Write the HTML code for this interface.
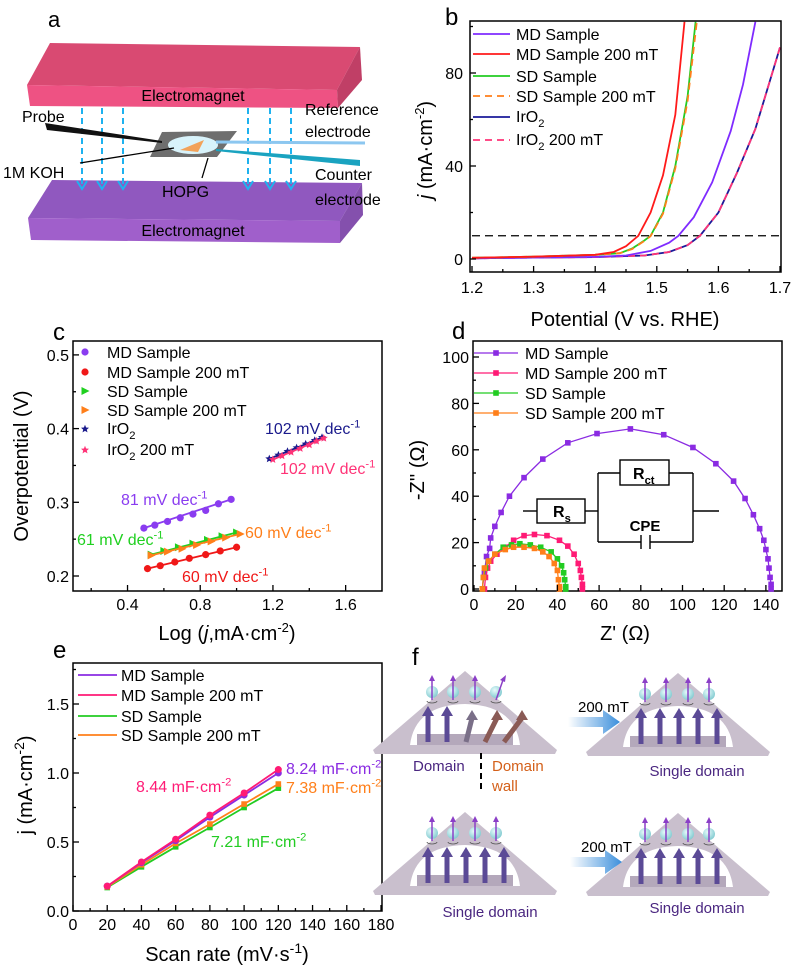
<!DOCTYPE html>
<html><head><meta charset="utf-8">
<style>
html,body{margin:0;padding:0;background:#fff;}
svg{display:block;font-family:"Liberation Sans",Arial,sans-serif;}
</style></head>
<body>
<svg id="fig" width="800" height="974" viewBox="0 0 800 974" xmlns="http://www.w3.org/2000/svg">
<defs>
<clipPath id="clipB"><rect x="470" y="21" width="311" height="251"/></clipPath>
<linearGradient id="blueArrow" x1="0" x2="1"><stop offset="0" stop-color="#ffffff"/><stop offset="1" stop-color="#3b8fdc"/></linearGradient>
<radialGradient id="sph" cx="0.4" cy="0.35" r="0.7"><stop offset="0" stop-color="#e8fbfb"/><stop offset="1" stop-color="#7ec9cf"/></radialGradient>
</defs>

<g>
<text x="48" y="27" font-size="22">a</text>
<g>
<polygon points="27,85 50,43 360,47 337,90" fill="#d94a72"/>
<polygon points="27,85 337,90 338,108 30,106" fill="#ee5283"/>
<polygon points="337,90 360,47 362,80 338,108" fill="#c03f66"/>
<text x="193" y="101" font-size="16" text-anchor="middle">Electromagnet</text>
</g>
<g>
<polygon points="28,218 52,180 362,183 340,221" fill="#9058bf"/>
<polygon points="28,218 340,221 340,243 31,240" fill="#a05fcb"/>
<polygon points="340,221 362,183 363,215 340,243" fill="#8450ad"/>
<text x="193" y="236" font-size="16" text-anchor="middle">Electromagnet</text>
</g>
<g id="fieldArrows"></g>
<g>
<polygon points="162,132 237,131 217,157 150,157" fill="#6e6e6e"/>
<ellipse cx="193" cy="145" rx="25" ry="9" fill="#d8f3fb"/>
<polygon points="180,150 204,140 198,152" fill="#f2a25a"/>
</g>
<polygon points="45,123 47,130 162,143 162,141" fill="#111"/>
<line x1="80" y1="163" x2="174" y2="148" stroke="#000" stroke-width="1.3"/>
<line x1="208" y1="158" x2="202" y2="178" stroke="#000" stroke-width="1.3"/>
<line x1="216" y1="142" x2="365" y2="143" stroke="#8cc7f0" stroke-width="3"/>
<polygon points="216,149 360,160 360,166 216,151" fill="#1aa3c0"/>
<text x="22" y="122" font-size="16">Probe</text>
<text x="3" y="178" font-size="16">1M KOH</text>
<text x="162" y="197" font-size="16">HOPG</text>
<text x="305" y="115" font-size="16">Reference</text>
<text x="305" y="137" font-size="16">electrode</text>
<text x="315" y="180" font-size="16">Counter</text>
<text x="315" y="205" font-size="16">electrode</text>
</g>

<g id="panelB"></g>
<g id="panelC"></g>
<g id="panelD"></g>
<g id="panelE"></g>
<g id="panelF"></g>
</svg>

<script>
const bSeriesNames = ["MD Sample","MD Sample 200 mT","SD Sample","SD Sample 200 mT","IrO2","IrO2 200 mT"];
const bColors = ["#7f2bff","#ff1a1a","#22cc22","#ff7f1a","#1a1a99","#ff3377"];
const bV_md = [1.2,1.3,1.4,1.45,1.49,1.52,1.535,1.56,1.59,1.62,1.64,1.66];
const bJ_md = [0.3,0.6,0.9,1.5,3.5,7,10,18,33,55,75,102];
const bV_md200 = [1.2,1.3,1.4,1.43,1.45,1.47,1.49,1.51,1.53,1.545];
const bJ_md200 = [0.5,1,1.8,3,5.5,10,20,36,62,102];
const bV_sd = [1.2,1.3,1.4,1.44,1.46,1.48,1.49,1.51,1.53,1.55,1.563];
const bJ_sd = [0.5,1,1.8,2.5,4.5,8,10,20,40,70,102];
const bV_sd200 = [1.2,1.3,1.4,1.44,1.46,1.48,1.49,1.51,1.53,1.55,1.565];
const bJ_sd200 = [0.5,1,1.8,2.5,4.3,7.8,9.8,19.5,39,68,102];
const bV_ir = [1.2,1.3,1.4,1.48,1.52,1.55,1.57,1.6,1.63,1.66,1.7];
const bJ_ir = [0.3,0.6,0.8,1.5,3,6,10,20,37,56,91];
const bV_ir200 = [1.2,1.3,1.4,1.48,1.52,1.55,1.57,1.6,1.63,1.66,1.7];
const bJ_ir200 = [0.3,0.6,0.8,1.5,3,6,10,20,37,56,91];
const bXTicks = [1.2,1.3,1.4,1.5,1.6,1.7];
const bYTicks = [0,40,80];
const bRefLine = [10];

const cSeriesNames = ["MD Sample","MD Sample 200 mT","SD Sample","SD Sample 200 mT","IrO2","IrO2 200 mT"];
const cColors = ["#8a3cf0","#f01818","#20d020","#ff7f1a","#1a1a8c","#ff3377"];
const cX_md = [0.49,0.55,0.62,0.69,0.76,0.83,0.9,0.97];
const cY_md = [0.265,0.269,0.274,0.279,0.284,0.289,0.298,0.304];
const cX_md200 = [0.51,0.58,0.66,0.74,0.83,0.91,1.0];
const cY_md200 = [0.21,0.214,0.219,0.224,0.229,0.234,0.239];
const cX_sd = [0.53,0.6,0.68,0.76,0.84,0.92,1.0];
const cY_sd = [0.229,0.234,0.239,0.244,0.249,0.254,0.259];
const cX_sd200 = [0.53,0.62,0.7,0.78,0.86,0.94,1.02];
const cY_sd200 = [0.228,0.233,0.237,0.242,0.247,0.252,0.257];
const cX_ir = [1.18,1.23,1.28,1.33,1.38,1.43,1.47];
const cY_ir = [0.359,0.364,0.369,0.374,0.379,0.384,0.388];
const cX_ir200 = [1.2,1.25,1.3,1.35,1.4,1.44,1.48];
const cY_ir200 = [0.358,0.363,0.368,0.373,0.378,0.383,0.387];
const cXTicks = [0.4,0.8,1.2,1.6];
const cYTicks = [0.2,0.3,0.4,0.5];
const cSlopes = ["81","60","61","60","102","102"];

const dSeriesNames = ["MD Sample","MD Sample 200 mT","SD Sample","SD Sample 200 mT"];
const dColors = ["#8a2be2","#ff1a75","#22cc22","#ff7f1a"];
const dX_md = [4,5,6,7.5,8,10,13,17,24,33,45,59,75,91,105,116,124.5,130,134,137,139,140,141,141.5,142,142.5,142.5];
const dY_md = [0,7,14,17.5,22,27,33,40,48,56,63,67,69,66.5,61,54,46.5,39,32,26,21,17,13,9,5,2,0];
const dX_md200 = [5,5.5,6.5,8,11,15,19,24,29,35,41,45,48,50,51,51.5,52,52];
const dY_md200 = [0,5,9,12,15,18,21,23,23.5,23,21,18.5,15,11,8,5,2,0];
const dX_sd = [4,4.5,5.5,7,10,14,18,22,27,32,37,40,42,43,43.5,44,44];
const dY_sd = [0,5,9,12,15,18,19,19.5,19,18,16,13,10,7,4,1,0];
const dX_sd200 = [4,4.5,5,7,10,15,19,24,29,33,36,38.5,40,40.5,41,41];
const dY_sd200 = [0,5,9,12,15,17,18,18,17.5,16,14,11,8,4,1,0];
const dXTicks = [0,20,40,60,80,100,120,140];
const dYTicks = [0,20,40,60,80,100];

const eSeriesNames = ["MD Sample","MD Sample 200 mT","SD Sample","SD Sample 200 mT"];
const eColors = ["#8a2be2","#ff1a75","#22cc22","#ff7f1a"];
const eScan = [20,40,60,80,100,120];
const eJ_md = [0.18,0.35,0.51,0.68,0.84,1.0];
const eJ_md200 = [0.18,0.355,0.52,0.695,0.855,1.025];
const eJ_sd = [0.17,0.32,0.465,0.605,0.75,0.89];
const eJ_sd200 = [0.175,0.335,0.49,0.63,0.775,0.92];
const eXTicks = [0,20,40,60,80,100,120,140,160,180];
const eYTicks = ["0.0","0.5","1.0","1.5"];
const eCdl = ["8.24","8.44","7.21","7.38"];

const NS = "http://www.w3.org/2000/svg";
const TICK = 16, LEG = 16, TITLE = 20;
function mk(tag, attrs, parent){
  const el = document.createElementNS(NS, tag);
  for (const k in attrs) el.setAttribute(k, attrs[k]);
  parent.appendChild(el);
  return el;
}
function txt(parent, x, y, s, size, anchor, fill){
  const t = mk("text", {x:x, y:y, "font-size":size, "text-anchor":anchor||"start", fill:fill||"#000"}, parent);
  t.textContent = s;
  return t;
}
function supText(parent, x, y, pre, sup, post, size, fill, anchor){
  const t = mk("text", {x:x, y:y, "font-size":size, fill:fill||"#000", "text-anchor":anchor||"start"}, parent);
  const a = mk("tspan", {}, t); a.textContent = pre;
  const b = mk("tspan", {dy:-size*0.4, "font-size":size*0.7}, t); b.textContent = sup;
  if (post){ const c = mk("tspan", {dy:size*0.4}, t); c.textContent = post; }
  return t;
}
function subText(parent, x, y, pre, sub, post, size, fill){
  const t = mk("text", {x:x, y:y, "font-size":size, fill:fill||"#000"}, parent);
  const a = mk("tspan", {}, t); a.textContent = pre;
  const b = mk("tspan", {dy:size*0.3, "font-size":size*0.7}, t); b.textContent = sub;
  if (post){ const c = mk("tspan", {dy:-size*0.3}, t); c.textContent = post; }
  return t;
}
function pathFrom(xs, ys, sx, sy){
  return xs.map((v,i)=>(i?"L":"M")+sx(v).toFixed(1)+","+sy(ys[i]).toFixed(1)).join(" ");
}
function frame(g, x, y, w, h){
  const r = mk("rect", {x:x, y:y, width:w, height:h, fill:"none", stroke:"#000", "stroke-width":1.5}, g);
  
  
}
function xTick(g, x, yb, len, xmin, xmax){ if (x<xmin||x>xmax) return; mk("line", {x1:x, x2:x, y1:yb, y2:yb-len, stroke:"#000", "stroke-width":1.3}, g); }
function yTick(g, xl, y, len, ymin, ymax){ if (y<ymin||y>ymax) return; mk("line", {x1:xl, x2:xl+len, y1:y, y2:y, stroke:"#000", "stroke-width":1.3}, g); }

(function(){
  const g = document.getElementById("fieldArrows");
  const xs = [82,102,123,248,270,291];
  xs.forEach(x=>{
    const l = mk("line", {x1:x, y1:108, x2:x, y2:186, stroke:"#1fb2ef", "stroke-width":2, "stroke-dasharray":"6,4"}, g);
    
    
    mk("polyline", {points:(x-5)+",181 "+x+",189 "+(x+5)+",181", fill:"none", stroke:"#1fb2ef", "stroke-width":2}, g);
  });
})();

(function(){
  const g = document.getElementById("panelB");
  const sx = v => 472 + (v-1.2)/0.5*308;
  const sy = j => 259 - j*2.325;
  txt(g, 445, 25, "b", 24);
  const plot = mk("g", {"clip-path":"url(#clipB)"}, g);
  const ref = mk("line", {x1:sx(1.2), x2:sx(1.7), y1:sy(bRefLine[0]), y2:sy(bRefLine[0]), stroke:"#000", "stroke-width":1.3, "stroke-dasharray":"8,5"}, plot);
  
  
  const sets = [[bV_ir,bJ_ir,4,null],[bV_ir200,bJ_ir200,5,"7,5"],[bV_md,bJ_md,0,null],[bV_sd,bJ_sd,2,null],[bV_sd200,bJ_sd200,3,"7,5"],[bV_md200,bJ_md200,1,null]];
  sets.forEach(s=>{
    const p = mk("path", {d:pathFrom(s[0],s[1],sx,sy), fill:"none", stroke:bColors[s[2]], "stroke-width":1.8}, plot);
    if (s[3]) p.setAttribute("stroke-dasharray", s[3]);
    
    
  });
  frame(g, 470, 21, 311, 251);
  bXTicks.forEach(v=>{
    xTick(g, sx(v), 272, 6, 470, 781);
    xTick(g, sx(v+0.05), 272, 3, 470, 779);
    const t = txt(g, sx(v), 293, v.toFixed(1), TICK, "middle");
    
    
  });
  bYTicks.forEach(v=>{
    yTick(g, 470, sy(v), 6, 21, 272);
    yTick(g, 470, sy(v+20), 3, 21, 272);
    const t = txt(g, 463, sy(v)+6, String(v), TICK, "end");
    
    
  });
  const xt = txt(g, 625, 326, "Potential (V vs. RHE)", TITLE, "middle");
  
  
  const yt = mk("text", {x:0, y:0, "font-size":TITLE, "text-anchor":"middle", transform:"translate(432,150) rotate(-90)"}, g);
  const y1 = mk("tspan", {"font-style":"italic"}, yt); y1.textContent = "j";
  const y2 = mk("tspan", {}, yt); y2.textContent = " (mA·cm";
  const y3 = mk("tspan", {dy:-8, "font-size":13}, yt); y3.textContent = "-2";
  const y4 = mk("tspan", {dy:8}, yt); y4.textContent = ")";
  
  
  const rows = [34,54,76,96,117,140];
  const dashes = [null,null,null,"7,5",null,"7,5"];
  bSeriesNames.forEach((n,i)=>{
    const l = mk("line", {x1:473, x2:510, y1:rows[i], y2:rows[i], stroke:bColors[i], "stroke-width":1.8}, g);
    if (dashes[i]) l.setAttribute("stroke-dasharray", dashes[i]);
    
    
    let t;
    if (n.startsWith("IrO2")) t = subText(g, 516, rows[i]+5, "IrO", "2", n.slice(4), LEG);
    else t = txt(g, 516, rows[i]+6, n, LEG);
    
    
  });
})();

function star(g, cx, cy, r, fill){
  let pts = [];
  for (let i=0;i<10;i++){
    const a = -Math.PI/2 + i*Math.PI/5;
    const rr = i%2 ? r*0.45 : r;
    pts.push((cx+rr*Math.cos(a)).toFixed(1)+","+(cy+rr*Math.sin(a)).toFixed(1));
  }
  return mk("polygon", {points:pts.join(" "), fill:fill}, g);
}
function marker(g, type, cx, cy, color){
  let m;
  if (type==="circle") m = mk("circle", {cx:cx, cy:cy, r:3.6, fill:color}, g);
  else if (type==="tri") m = mk("polygon", {points:(cx-3.5)+","+(cy-4)+" "+(cx+4.5)+","+cy+" "+(cx-3.5)+","+(cy+4), fill:color}, g);
  else if (type==="square") m = mk("rect", {x:cx-2.8, y:cy-2.8, width:5.6, height:5.6, fill:color}, g);
  else m = star(g, cx, cy, 4.2, color);
  return m;
}
(function(){
  const g = document.getElementById("panelC");
  const sx = v => 73 + (v-0.1)/1.7*309;
  const sy = v => 576 - (v-0.2)*737;
  txt(g, 53, 340, "c", 24);
  frame(g, 73, 341, 309, 250);
  const sets = [[cX_md,cY_md,0,"circle"],[cX_md200,cY_md200,1,"circle"],[cX_sd,cY_sd,2,"tri"],[cX_sd200,cY_sd200,3,"tri"],[cX_ir,cY_ir,4,"star"],[cX_ir200,cY_ir200,5,"star"]];
  sets.forEach(s=>{
    const xs=s[0], ys=s[1], c=cColors[s[2]];
    const n = xs.length-1;
    const fl = mk("line", {x1:sx(xs[0]), y1:sy(ys[0]), x2:sx(xs[n]), y2:sy(ys[n]), stroke:c, "stroke-width":1.8}, g);
    
    
    xs.forEach((x,i)=>{
      const m = marker(g, s[3], sx(x), sy(ys[i]), c);
      
      
    });
  });
  cXTicks.forEach(v=>{
    xTick(g, sx(v), 591, 6, 73, 382);
    xTick(g, sx(v-0.2), 591, 3, 73, 382);
    const t = txt(g, sx(v), 610, v.toFixed(1), TICK, "middle");
    
    
  });
  cYTicks.forEach(v=>{
    yTick(g, 73, sy(v), 6, 341, 591);
    yTick(g, 73, sy(v+0.05), 3, 343, 591);
    const t = txt(g, 69, sy(v)+6, v.toFixed(1), TICK, "end");
    
    
  });
  const xt = mk("text", {x:227, y:640, "font-size":TITLE, "text-anchor":"middle"}, g);
  const a1 = mk("tspan", {}, xt); a1.textContent = "Log (";
  const a2 = mk("tspan", {"font-style":"italic"}, xt); a2.textContent = "j";
  const a3 = mk("tspan", {}, xt); a3.textContent = ",mA·cm";
  const a4 = mk("tspan", {dy:-8,"font-size":13}, xt); a4.textContent = "-2";
  const a5 = mk("tspan", {dy:8}, xt); a5.textContent = ")";
  
  
  const yt = txt(g, 0, 0, "Overpotential (V)", TITLE, "middle");
  yt.setAttribute("transform", "translate(28,466) rotate(-90)");
  
  
  const rows = [352,372,391,410,429,450];
  const types = ["circle","circle","tri","tri","star","star"];
  cSeriesNames.forEach((n,i)=>{
    const m = marker(g, types[i], 85, rows[i], cColors[i]);
    
    
    let t;
    if (n.startsWith("IrO2")) t = subText(g, 107, rows[i]+5, "IrO", "2", n.slice(4), LEG);
    else t = txt(g, 107, rows[i]+6, n, LEG);
    
    
  });
  const ann = [[121,505,0],[182,582,1],[77,545,2],[245,538,3],[265,434,4],[280,474,5]];
  ann.forEach(a=>{
    const t = supText(g, a[0], a[1], cSlopes[a[2]]+" mV dec", "-1", "", 16, cColors[a[2]]);
    
    
  });
})();

(function(){
  const g = document.getElementById("panelD");
  const sx = v => 474 + v*2.085;
  const sy = v => 589 - v*2.32;
  txt(g, 452, 339, "d", 24);
  frame(g, 473, 341, 309, 250);
  const sets = [[dX_md,dY_md,0],[dX_md200,dY_md200,1],[dX_sd,dY_sd,2],[dX_sd200,dY_sd200,3]];
  sets.forEach(s=>{
    const c = dColors[s[2]];
    const p = mk("path", {d:pathFrom(s[0],s[1],sx,sy), fill:"none", stroke:c, "stroke-width":1.3}, g);
    
    
    s[0].forEach((x,i)=>{
      const m = marker(g, "square", sx(x), sy(s[1][i]), c);
      
      
    });
  });
  dXTicks.forEach(v=>{
    xTick(g, sx(v), 591, 6, 473, 782);
    xTick(g, sx(v+10), 591, 3, 473, 780);
    const t = txt(g, sx(v), 610, String(v), TICK, "middle");
    
    
  });
  dYTicks.forEach(v=>{
    yTick(g, 473, sy(v), 6, 341, 591);
    yTick(g, 473, sy(v+10), 3, 343, 591);
    const t = txt(g, 469, sy(v)+6, String(v), TICK, "end");
    
    
  });
  const xt = txt(g, 625, 640, "Z' (Ω)", TITLE, "middle");
  
  
  const yt = txt(g, 0, 0, "-Z'' (Ω)", TITLE, "middle");
  yt.setAttribute("transform", "translate(424,470) rotate(-90)");
  
  
  const rows = [353,373,393,413];
  dSeriesNames.forEach((n,i)=>{
    const l = mk("line", {x1:474, x2:518, y1:rows[i], y2:rows[i], stroke:dColors[i], "stroke-width":1.3}, g);
    
    
    marker(g, "square", 496, rows[i], dColors[i]);
    const t = txt(g, 525, rows[i]+6, n, LEG);
    
    
  });
  const ck = mk("g", {stroke:"#000", "stroke-width":1.4, fill:"none"}, g);
  
  
  mk("line", {x1:523, y1:511, x2:537, y2:511}, ck);
  mk("rect", {x:537, y:499, width:48, height:24, fill:"#fff"}, ck);
  mk("line", {x1:585, y1:511, x2:598, y2:511}, ck);
  mk("line", {x1:598, y1:473, x2:598, y2:542}, ck);
  mk("line", {x1:693, y1:473, x2:693, y2:542}, ck);
  mk("line", {x1:693, y1:511, x2:719, y2:511}, ck);
  mk("line", {x1:598, y1:473, x2:620, y2:473}, ck);
  mk("rect", {x:620, y:460, width:49, height:25, fill:"#fff"}, ck);
  mk("line", {x1:669, y1:473, x2:693, y2:473}, ck);
  mk("line", {x1:598, y1:542, x2:641, y2:542}, ck);
  mk("line", {x1:641, y1:535, x2:641, y2:549}, ck);
  mk("line", {x1:650, y1:535, x2:650, y2:549}, ck);
  mk("line", {x1:650, y1:542, x2:693, y2:542}, ck);
  const rs = subText(g, 553, 517, "R", "s", "", 16);
  rs.setAttribute("font-weight","bold");
  const rct = subText(g, 633, 479, "R", "ct", "", 16);
  rct.setAttribute("font-weight","bold");
  const cpe = txt(g, 645, 531, "CPE", 15, "middle");
  cpe.setAttribute("font-weight","bold");
})();

(function(){
  const g = document.getElementById("panelE");
  const sx = v => 73 + v/180*308;
  const sy = v => 911 - v*138;
  txt(g, 53, 658, "e", 24);
  frame(g, 73, 663, 309, 248);
  const series = [[eJ_sd,2],[eJ_sd200,3],[eJ_md,0],[eJ_md200,1]];
  series.forEach(s=>{
    const c = eColors[s[1]];
    const p = mk("path", {d:pathFrom(eScan,s[0],sx,sy), fill:"none", stroke:c, "stroke-width":1.8}, g);
    
    
    eScan.forEach((x,i)=>{
      const m = (s[1]>=2) ? marker(g, "square", sx(x), sy(s[0][i]), c) : mk("circle", {cx:sx(x), cy:sy(s[0][i]), r:3.5, fill:c}, g);
      
      
    });
  });
  eXTicks.forEach(v=>{
    xTick(g, sx(v), 911, 6, 73, 382);
    xTick(g, sx(v+10), 911, 3, 73, 380);
    const t = txt(g, sx(v), 930, String(v), TICK, "middle");
    
    
  });
  eYTicks.forEach(v=>{
    const y = sy(parseFloat(v));
    yTick(g, 73, y, 6, 663, 911);
    yTick(g, 73, sy(parseFloat(v)+0.25), 3, 665, 911);
    const t = txt(g, 69, y+6, v, TICK, "end");
    
    
  });
  const xt = supText(g, 227, 961, "Scan rate (mV·s", "-1", ")", TITLE, "#000", "middle");
  
  
  const yt = supText(g, 0, 0, "j (mA·cm", "-2", ")", TITLE, "#000", "middle");
  yt.setAttribute("transform", "translate(32,785) rotate(-90)");
  
  
  const rows = [675,695,716,735];
  eSeriesNames.forEach((n,i)=>{
    const l = mk("line", {x1:78, x2:117, y1:rows[i], y2:rows[i], stroke:eColors[i], "stroke-width":1.8}, g);
    
    
    const t = txt(g, 121, rows[i]+6, n, LEG);
    
    
  });
  const ann = [[286,774,0],[136,792,1],[211,847,2],[286,793,3]];
  ann.forEach(a=>{
    const t = supText(g, a[0], a[1], eCdl[a[2]]+" mF·cm", "-2", "", 16, eColors[a[2]]);
    
    
  });
})();

(function(){
  const g = document.getElementById("panelF");
  txt(g, 412, 665, "f", 24);
  function tri(cx, baseY, tilted){
    const t = mk("g", {}, g);
    
    
    mk("polygon", {points:(cx-92)+","+baseY+" "+cx+","+(baseY-79)+" "+(cx+92)+","+baseY+" "+(cx+90)+","+(baseY+4)+" "+(cx-90)+","+(baseY+4), fill:"#c9bfcd"}, t);
    mk("path", {d:"M"+(cx-55)+","+(baseY-5)+" Q"+(cx-50)+","+(baseY-45)+" "+cx+","+(baseY-46)+" Q"+(cx+50)+","+(baseY-45)+" "+(cx+55)+","+(baseY-5)+" Z", fill:"#ffffff"}, t);
    mk("rect", {x:cx-48, y:baseY-16, width:96, height:11, fill:"#b4a8bb"}, t);
    const offs = [-37,-18,1,20,39];
    offs.forEach((o,i)=>{
      const tl = tilted && i>=2;
      const col = tl ? (i===2?"#7a6f88":"#8a5a55") : "#5b4a96";
      const x0 = cx+o, y0 = baseY-8;
      const x1 = tl ? x0+ (i-1)*6 : x0, y1 = tl ? baseY-38 : baseY-42;
      mk("line", {x1:x0, y1:y0, x2:x1, y2:y1+6, stroke:col, "stroke-width":5}, t);
      mk("polygon", {points:(x1-6)+","+(y1+8)+" "+x1+","+(y1-2)+" "+(x1+6)+","+(y1+8), fill:col}, t);
    });
    [-33,-12,10,31].forEach((o,i)=>{
      const x = cx+o, y = baseY-58;
      mk("circle", {cx:x, cy:y, r:6, fill:"url(#sph)"}, t);
      const tl = tilted && i===3;
      mk("line", {x1:x, y1:y+8, x2:tl?x+7:x, y2:tl?y-12:y-13, stroke:"#8b3fc7", "stroke-width":1.5}, t);
      mk("polygon", {points: tl ? (x+4)+","+(y-12)+" "+(x+10)+","+(y-17)+" "+(x+9)+","+(y-10) : (x-3)+","+(y-11)+" "+x+","+(y-17)+" "+(x+3)+","+(y-11), fill:"#8b3fc7"}, t);
      mk("path", {d:"M"+(x-5)+","+(y+9)+" a5,2 0 1,0 10,0", fill:"none", stroke:"#555", "stroke-width":0.8}, t);
    });
  }
  tri(465, 750, true);
  tri(678, 752, false);
  tri(465, 891, false);
  tri(678, 892, false);
  function bigArrow(x, y){
    const a = mk("polygon", {points:x+","+(y-5)+" "+(x+35)+","+(y-5)+" "+(x+35)+","+(y-12)+" "+(x+52)+","+y+" "+(x+35)+","+(y+12)+" "+(x+35)+","+(y+5)+" "+x+","+(y+5), fill:"url(#blueArrow)"}, g);
    
    
  }
  bigArrow(568, 722);
  bigArrow(570, 862);
  txt(g, 578, 712, "200 mT", 15);
  txt(g, 581, 852, "200 mT", 15);
  const c1 = "#4a2680";
  txt(g, 413, 771, "Domain", 15, "start", c1);
  txt(g, 492, 771, "Domain", 15, "start", "#d4601a");
  txt(g, 492, 791, "wall", 15, "start", "#d4601a");
  const dl = mk("line", {x1:481, y1:753, x2:481, y2:793, stroke:"#000", "stroke-width":2, "stroke-dasharray":"6,4"}, g);
  
  
  txt(g, 697, 776, "Single domain", 15, "middle", c1);
  txt(g, 490, 917, "Single domain", 15, "middle", c1);
  txt(g, 697, 913, "Single domain", 15, "middle", c1);
})();
</script>
</body></html>
